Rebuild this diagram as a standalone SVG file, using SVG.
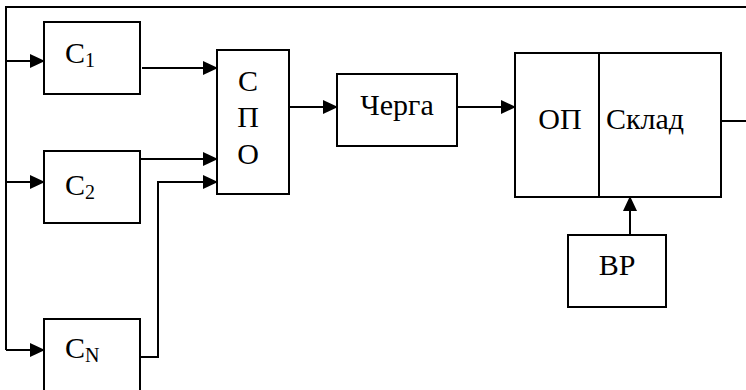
<svg xmlns="http://www.w3.org/2000/svg" width="746" height="390" viewBox="0 0 746 390" font-family="Liberation Serif, Times New Roman, serif">
  <defs>
    <marker id="arrow" markerUnits="userSpaceOnUse" markerWidth="15" markerHeight="14" refX="14" refY="7" orient="auto">
      <path d="M0,0 L15,7 L0,14 Z" fill="#000"/>
    </marker>
  </defs>

  <rect width="746" height="390" fill="#fff"/>

  <!-- connectors -->
  <g id="connectors" fill="none" stroke="#000" stroke-width="2">
    <polyline points="746,7 6,7 6,350"/>
    <line x1="6" y1="61" x2="44" y2="61" marker-end="url(#arrow)"/>
    <line x1="6" y1="182" x2="44" y2="182" marker-end="url(#arrow)"/>
    <line x1="6" y1="350" x2="44" y2="350" marker-end="url(#arrow)"/>
    <line x1="142" y1="68" x2="217" y2="68" marker-end="url(#arrow)"/>
    <line x1="141" y1="159" x2="217" y2="159" marker-end="url(#arrow)"/>
    <polyline points="140,357 158,357 158,182 217,182" marker-end="url(#arrow)"/>
    <line x1="289" y1="107" x2="337" y2="107" marker-end="url(#arrow)"/>
    <line x1="457" y1="107" x2="515" y2="107" marker-end="url(#arrow)"/>
    <line x1="721" y1="121" x2="746" y2="121"/>
    <line x1="630" y1="235" x2="630" y2="197" marker-end="url(#arrow)"/>
  </g>

  <!-- box outlines -->
  <g fill="#fff" stroke="#000" stroke-width="2">
    <rect id="c1-box" x="44" y="22" width="96" height="72"/>
    <rect id="c2-box" x="44" y="151" width="96" height="72"/>
    <rect id="cn-box" x="44" y="319" width="96" height="80"/>
    <rect id="spo-box" x="217" y="50" width="72" height="144"/>
    <rect id="queue-box" x="337" y="74" width="120" height="72"/>
    <rect id="op-store-box" x="515" y="53" width="206" height="144"/>
    <line x1="599" y1="53" x2="599" y2="197"/>
    <rect id="vr-box" x="568" y="235" width="98" height="72"/>
  </g>

  <!-- labels -->
  <g font-family="Liberation Serif, Times New Roman, serif" font-size="30" fill="#000">
    <g id="c1"><text x="65" y="63">C<tspan font-size="20" dy="4">1</tspan></text></g>
    <g id="c2"><text x="65" y="195">C<tspan font-size="20" dy="4">2</tspan></text></g>
    <g id="cn"><text x="65" y="358">C<tspan font-size="20" dy="4">N</tspan></text></g>
    <g id="spo">
      <text x="248" y="91" text-anchor="middle">С</text>
      <text x="248" y="127" text-anchor="middle">П</text>
      <text x="248" y="164" text-anchor="middle">О</text>
    </g>
    <g id="queue"><text x="397" y="115" text-anchor="middle">Черга</text></g>
    <g id="op-store">
      <text x="560" y="129" text-anchor="middle">ОП</text>
      <text x="606" y="129">Склад</text>
    </g>
    <g id="vr"><text x="617" y="275" text-anchor="middle">ВР</text></g>
  </g>
</svg>
